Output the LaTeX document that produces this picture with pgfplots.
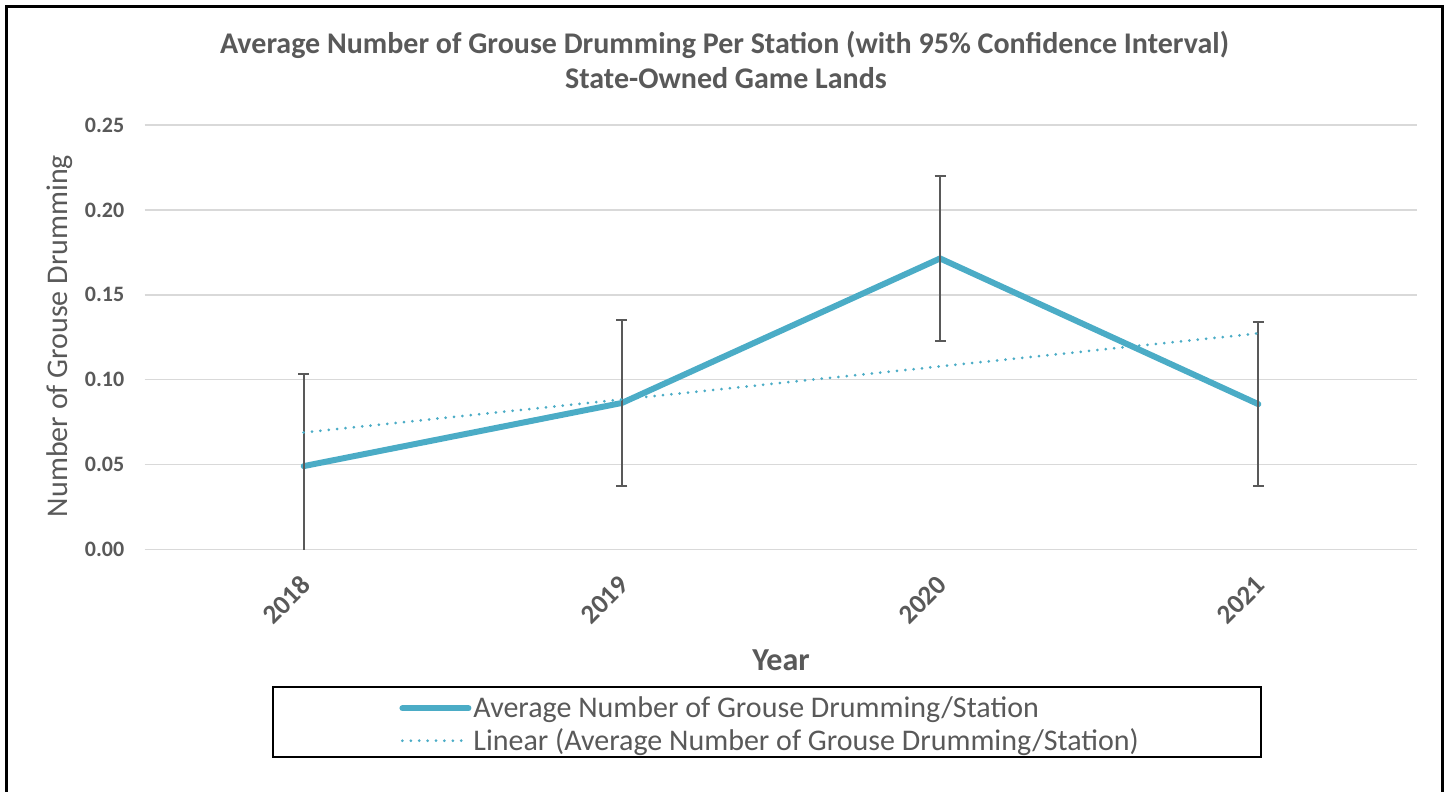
\documentclass[border=0pt]{standalone}
\usepackage{fontspec}
\setmainfont{Carlito}
\usepackage{pgfplots}
\pgfplotsset{compat=1.18}
\definecolor{txtgray}{HTML}{595959}
\definecolor{linecol}{HTML}{4BACC6}
\definecolor{gridgray}{HTML}{D9D9D9}
\definecolor{errgray}{HTML}{595959}

\begin{document}
\begin{tikzpicture}
\useasboundingbox (0,0) rectangle (723.5pt,396pt);
\begin{axis}[
  at={(72.3pt,121.25pt)}, anchor=south west,
  scale only axis, width=636.4pt, height=212.25pt,
  xmin=-0.5, xmax=3.5, ymin=0, ymax=0.25,
  axis line style={draw=none},
  major tick length=0pt,
  xtick={0,1,2,3},
  xticklabels={2018,2019,2020,2021},
  ytick={0,0.05,0.1,0.15,0.2,0.25},
  ymajorgrids,
  grid style={gridgray, line width=0.75pt},
  /pgf/number format/fixed,
  /pgf/number format/fixed zerofill,
  /pgf/number format/precision=2,
  /pgf/number format/assume math mode=true,
  yticklabel style={txtgray, font=\fontsize{11}{13}\selectfont\bfseries, anchor=east, inner sep=0pt, xshift=-10pt},
  xticklabel style={txtgray, font=\fontsize{13.5}{15}\selectfont\bfseries, xshift=3.5pt, yshift=-13pt, rotate=45, anchor=east},
  clip marker paths=true,
  legend style={draw=none, fill=none, at={(0.1999,-0.3404)}, anchor=north west,
    inner sep=0pt, row sep=2pt, nodes={inner sep=1pt, text=txtgray},
    font=\fontsize{15}{18}\selectfont},
  legend cell align=left,
  legend image code/.code={\draw[#1] (0pt,0pt) -- (33pt,0pt);},
]
\addplot[linecol, line width=3pt, line cap=round, line join=round,
  error bars/.cd, y dir=both, y explicit,
  error bar style={line width=1pt, errgray, solid, line cap=butt},
  error mark options={rotate=90, mark size=2.75pt, line width=1pt, errgray}]
  coordinates {
  (0,0.0491) +- (0,0.0545)
  (1,0.0863) +- (0,0.0490)
  (2,0.1714) +- (0,0.0485)
  (3,0.0856) +- (0,0.0483)
};
\addlegendentry{Average Number of Grouse Drumming/Station}
\addplot[linecol, line width=1.5pt, line cap=round, dash pattern=on 0pt off 4.2pt]
  coordinates {(0,0.0689) (3,0.1273)};
\addlegendentry{Linear (Average Number of Grouse Drumming/Station)}
\end{axis}
\begin{scope}[x=0.5pt, y=-0.5pt, shift={(0pt,396pt)}]
  \draw[black, line width=1.5pt] (6.7,820) -- (6.7,6.5) -- (1442.6,6.5) -- (1442.6,820);
  \draw[black, line width=1.2pt] (273,687) rectangle (1261,757);
  \node[anchor=base, txtgray, font=\fontsize{15}{18}\selectfont\bfseries] at (724.6,54)
    {Average Number of Grouse Drumming Per Station (with 95\% Confidence Interval)};
  \node[anchor=base, txtgray, font=\fontsize{15}{18}\selectfont\bfseries] at (726,89)
    {State-Owned Game Lands};
  \node[rotate=90, txtgray, font=\fontsize{15}{18}\selectfont] at (60,336)
    {Number of Grouse Drumming};
  \node[anchor=base, txtgray, font=\fontsize{16}{19}\selectfont\bfseries] at (781,671) {Year};
\end{scope}
\end{tikzpicture}
\end{document}
